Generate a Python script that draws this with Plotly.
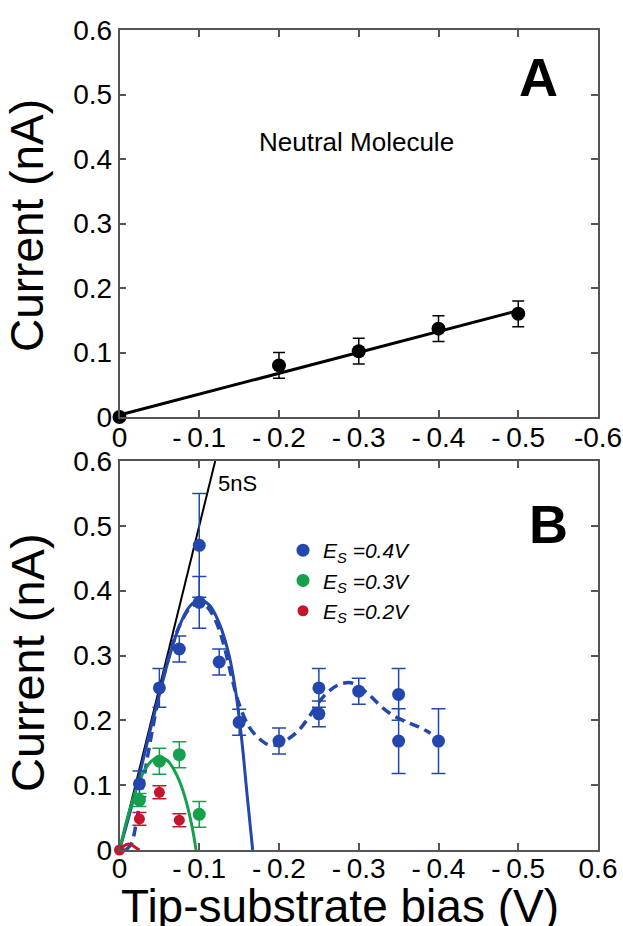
import plotly.graph_objects as go

# ---------------- Panel A : neutral molecule ----------------
a_bias = [0.0, -0.2, -0.3, -0.4, -0.5]
a_current = [0.0, 0.080, 0.102, 0.137, 0.160]
a_err = [0.0, 0.02, 0.02, 0.02, 0.02]
a_fit_bias = [0.0, -0.5]
a_fit_current = [0.003, 0.165]

# ---------------- Panel B : Es series ----------------
b04_bias = [-0.025, -0.05, -0.075, -0.1, -0.1, -0.125, -0.15, -0.2, -0.25, -0.25, -0.3, -0.35, -0.35, -0.4]
b04_current = [0.102, 0.25, 0.31, 0.47, 0.382, 0.29, 0.197, 0.168, 0.25, 0.21, 0.245, 0.24, 0.168, 0.168]
b04_err = [0.02, 0.03, 0.02, 0.08, 0.04, 0.02, 0.02, 0.02, 0.03, 0.02, 0.02, 0.04, 0.05, 0.05]

b03_bias = [-0.025, -0.05, -0.075, -0.1]
b03_current = [0.077, 0.137, 0.147, 0.055]
b03_err = [0.01, 0.02, 0.02, 0.02]

b02_bias = [0.0, -0.025, -0.05, -0.075]
b02_current = [0.0, 0.048, 0.089, 0.046]
b02_err = [0.0, 0.01, 0.01, 0.01]

# fitted curves
b04_fit_bias = [0.0, -0.0125, -0.025, -0.0375, -0.05, -0.0625, -0.075, -0.0875, -0.1, -0.1125,
                -0.125, -0.1375, -0.145, -0.15, -0.155, -0.16, -0.167]
b04_fit_current = [0.0, 0.055, 0.115, 0.18, 0.24, 0.298, 0.345, 0.375, 0.386, 0.378,
                   0.35, 0.30, 0.25, 0.205, 0.15, 0.085, 0.0]

b04_dash_bias = [-0.008, -0.015, -0.02, -0.025, -0.0375, -0.05, -0.0625, -0.075, -0.0875, -0.1,
                 -0.11, -0.12, -0.13, -0.14, -0.15, -0.1625, -0.175, -0.1875, -0.2, -0.2125,
                 -0.225, -0.2375, -0.25, -0.2625, -0.275, -0.29, -0.3, -0.3125, -0.325,
                 -0.3375, -0.35, -0.3625, -0.375, -0.39]
b04_dash_current = [0.0, 0.01, 0.035, 0.07, 0.16, 0.24, 0.30, 0.345, 0.372, 0.381,
                    0.375, 0.355, 0.32, 0.27, 0.225, 0.19, 0.172, 0.162, 0.163, 0.172,
                    0.185, 0.205, 0.228, 0.245, 0.255, 0.258, 0.252, 0.24, 0.225,
                    0.212, 0.203, 0.196, 0.19, 0.18]

b03_fit_bias = [0.0, -0.01, -0.02, -0.03, -0.04, -0.05, -0.06, -0.07, -0.08, -0.09, -0.096]
b03_fit_current = [0.0, 0.05, 0.09, 0.12, 0.137, 0.143, 0.138, 0.12, 0.09, 0.042, 0.0]

b02_fit_bias = [0.0, -0.005, -0.01, -0.015, -0.02, -0.025]
b02_fit_current = [0.0, 0.006, 0.009, 0.008, 0.004, 0.0]

ohm_bias = [0.0, -0.12]
ohm_current = [0.0, 0.6]

# tick labels
x_ticks = [0, -0.1, -0.2, -0.3, -0.4, -0.5, -0.6]
a_xtext = ["0", "-\u20090.1", "-\u20090.2", "-\u20090.3", "-\u20090.4", "-\u20090.5", "-0.6"]
b_xtext = ["0", "-\u20090.1", "-\u20090.2", "-\u20090.3", "-\u20090.4", "-\u20090.5", "0.6"]
y_ticks = [0, 0.1, 0.2, 0.3, 0.4, 0.5, 0.6]
y_text = ["0", "0.1", "0.2", "0.3", "0.4", "0.5", "0.6"]

BLUE = "#2447ad"
GREEN = "#14a04c"
RED = "#c4152c"
FONT = "Liberation Sans, Arial, sans-serif"

fig = go.Figure()

# Panel A
fig.add_trace(go.Scatter(x=a_fit_bias, y=a_fit_current, mode="lines",
                         line=dict(color="black", width=3), xaxis="x", yaxis="y", showlegend=False))
fig.add_trace(go.Scatter(x=a_bias, y=a_current, mode="markers",
                         marker=dict(color="black", size=14),
                         error_y=dict(type="data", array=a_err, color="black", thickness=1.5, width=6),
                         xaxis="x", yaxis="y", showlegend=False, cliponaxis=False))

# Panel B curves
fig.add_trace(go.Scatter(x=ohm_bias, y=ohm_current, mode="lines",
                         line=dict(color="black", width=2), xaxis="x2", yaxis="y2", showlegend=False))
fig.add_trace(go.Scatter(x=b04_dash_bias, y=b04_dash_current, mode="lines", line_shape="spline",
                         line=dict(color=BLUE, width=3.5, dash="10px,6px"), xaxis="x2", yaxis="y2", showlegend=False))
fig.add_trace(go.Scatter(x=b04_fit_bias, y=b04_fit_current, mode="lines", line_shape="spline",
                         line=dict(color=BLUE, width=3), xaxis="x2", yaxis="y2", showlegend=False))
fig.add_trace(go.Scatter(x=b03_fit_bias, y=b03_fit_current, mode="lines", line_shape="spline",
                         line=dict(color=GREEN, width=3), xaxis="x2", yaxis="y2", showlegend=False))
fig.add_trace(go.Scatter(x=b02_fit_bias, y=b02_fit_current, mode="lines", line_shape="spline",
                         line=dict(color=RED, width=3), xaxis="x2", yaxis="y2", showlegend=False))

# Panel B data
fig.add_trace(go.Scatter(x=b04_bias, y=b04_current, mode="markers", name="<i>E<sub>S</sub> =0.4V</i>",
                         marker=dict(color=BLUE, size=13),
                         error_y=dict(type="data", array=b04_err, color=BLUE, thickness=1.5, width=7),
                         xaxis="x2", yaxis="y2", cliponaxis=False))
fig.add_trace(go.Scatter(x=b03_bias, y=b03_current, mode="markers", name="<i>E<sub>S</sub> =0.3V</i>",
                         marker=dict(color=GREEN, size=13),
                         error_y=dict(type="data", array=b03_err, color=GREEN, thickness=1.5, width=7),
                         xaxis="x2", yaxis="y2", cliponaxis=False))
fig.add_trace(go.Scatter(x=b02_bias, y=b02_current, mode="markers", name="<i>E<sub>S</sub> =0.2V</i>",
                         marker=dict(color=RED, size=11),
                         error_y=dict(type="data", array=b02_err, color=RED, thickness=1.5, width=7),
                         xaxis="x2", yaxis="y2", cliponaxis=False))

axis_common = dict(showline=True, linecolor="#555", linewidth=1.5, mirror="allticks",
                   ticks="inside", ticklen=7, tickwidth=1.5, tickcolor="#555",
                   showgrid=False, zeroline=False, automargin=False,
                   ticklabeloverflow="allow",
                   tickfont=dict(size=28, family=FONT, color="black"))

XD = [119.5 / 623, 598 / 623]
fig.update_layout(
    width=623, height=926,
    margin=dict(l=0, r=0, t=0, b=0, autoexpand=False),
    paper_bgcolor="white", plot_bgcolor="white",
    font=dict(family=FONT, color="black"),
    xaxis=dict(domain=XD, range=[0, -0.6], tickmode="array", tickvals=x_ticks, ticktext=a_xtext,
               anchor="y", ticklabelstandoff=-5, **axis_common),
    yaxis=dict(domain=[1 - 417 / 926, 1 - 30 / 926], range=[0, 0.6], tickmode="array",
               tickvals=y_ticks, ticktext=y_text, anchor="x", **axis_common),
    xaxis2=dict(domain=XD, range=[0, -0.6], tickmode="array", tickvals=x_ticks, ticktext=b_xtext,
                anchor="y2", ticklabelstandoff=-7, **axis_common),
    yaxis2=dict(domain=[1 - 850 / 926, 1 - 461 / 926], range=[0, 0.6], tickmode="array",
                tickvals=y_ticks, ticktext=y_text, anchor="x2", **axis_common),
    legend=dict(x=283 / 623, y=1 - 530 / 926, xanchor="left", yanchor="top",
                bgcolor="rgba(0,0,0,0)", font=dict(size=21, family=FONT, color="black"),
                itemwidth=30),
    showlegend=True,
)

ann = [
    dict(text="Current (nA)", x=27 / 623, y=1 - 226 / 926, textangle=-90, font=dict(size=46)),
    dict(text="Current (nA)", x=27 / 623, y=1 - 663 / 926, textangle=-90, font=dict(size=47)),
    dict(text="Tip-substrate bias (V)", x=340 / 623, y=1 - 906 / 926, font=dict(size=46)),
    dict(text="<b>A</b>", x=538 / 623, y=1 - 77 / 926, font=dict(size=54)),
    dict(text="<b>B</b>", x=548 / 623, y=1 - 524 / 926, font=dict(size=54)),
    dict(text="Neutral Molecule", x=356 / 623, y=1 - 142 / 926, font=dict(size=26)),
    dict(text="5nS", x=216 / 623, y=1 - 483 / 926, xanchor="left", font=dict(size=22)),
]
for a in ann:
    a.setdefault("xanchor", "center")
    fig.add_annotation(xref="paper", yref="paper", showarrow=False, yanchor="middle",
                       font_family=FONT, font_color="black", **{k: v for k, v in a.items() if k != "font"},
                       font_size=a["font"]["size"])

fig.write_html("out.html", config={"displayModeBar": False},
               post_script="document.body.style.margin='0px';")
